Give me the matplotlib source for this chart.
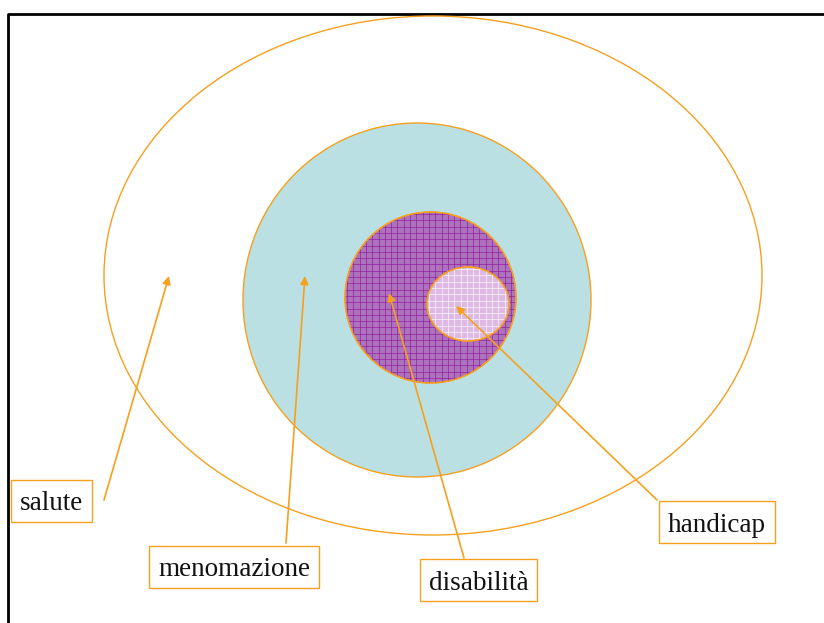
import matplotlib
matplotlib.use("Agg")
import matplotlib.pyplot as plt
from matplotlib.patches import Ellipse, Rectangle
import numpy as np

# ---- data ----
labels = ["salute", "menomazione", "disabilità", "handicap"]
# label box (x0, y0, x1, y1) in pixel coords
boxes = [(11, 480, 92, 522), (149, 546, 319, 588), (420, 559, 537, 601), (659, 501, 775, 543)]
# arrow tails and heads
tails = [(104, 500), (286, 543), (464, 558), (657, 500)]
heads = [(169, 276), (305, 276), (389, 293), (456, 306)]
# ellipses: center x, center y, width, height
ell_names = ["salute", "menomazione", "disabilità", "handicap"]
ell_cx = [433, 417, 430.5, 468]
ell_cy = [275.5, 300, 297.5, 304]
ell_w = [658, 348, 171, 82]
ell_h = [519, 354, 171, 74]

ORANGE = "#F5A01E"
fills = ["none", "#BBE0E3", "#AD72BC", "#DDB9E4"]
grid_cols = [None, None, "#9216A0", "#FFFFFF"]

fig = plt.figure(figsize=(8.24, 6.23), dpi=100)
ax = fig.add_axes([0, 0, 1, 1])
ax.set_xlim(0, 824)
ax.set_ylim(623, 0)
ax.axis("off")

# frame
ax.plot([8, 8, 824], [623, 14, 14], color="black", lw=2, solid_capstyle="butt")

for i in range(4):
    e = Ellipse((ell_cx[i], ell_cy[i]), ell_w[i], ell_h[i],
                facecolor=fills[i], edgecolor=ORANGE, lw=1.0, zorder=2 + i)
    ax.add_patch(e)
    if grid_cols[i] is not None:
        clip = Ellipse((ell_cx[i], ell_cy[i]), ell_w[i], ell_h[i],
                       facecolor="none", edgecolor="none")
        ax.add_patch(clip)
        step = 6.3
        x0 = ell_cx[i] - ell_w[i] / 2
        x1 = ell_cx[i] + ell_w[i] / 2
        y0 = ell_cy[i] - ell_h[i] / 2
        y1 = ell_cy[i] + ell_h[i] / 2
        for gx in np.arange(x0 + 2, x1, step):
            ln, = ax.plot([gx, gx], [y0, y1], color=grid_cols[i], lw=0.6,
                          alpha=0.75, zorder=2 + i + 0.1)
            ln.set_clip_path(clip)
        for gy in np.arange(y0 + 2, y1, step):
            ln, = ax.plot([x0, x1], [gy, gy], color=grid_cols[i], lw=0.6,
                          alpha=0.75, zorder=2 + i + 0.1)
            ln.set_clip_path(clip)
        e2 = Ellipse((ell_cx[i], ell_cy[i]), ell_w[i], ell_h[i],
                     facecolor="none", edgecolor=ORANGE, lw=1.0, zorder=2 + i + 0.2)
        ax.add_patch(e2)

for (t, h) in zip(tails, heads):
    ax.annotate("", xy=h, xytext=t,
                arrowprops=dict(arrowstyle="-|>", color=ORANGE, lw=1.2,
                                mutation_scale=12, shrinkA=0, shrinkB=0),
                zorder=10)

for lab, (bx0, by0, bx1, by1) in zip(labels, boxes):
    ax.add_patch(Rectangle((bx0, by0), bx1 - bx0, by1 - by0, facecolor="white",
                           edgecolor=ORANGE, lw=1.0, zorder=11))
    ax.text((bx0 + bx1) / 2, (by0 + by1) / 2 + 3, lab, ha="center", va="center",
            family="Liberation Serif", fontsize=19.5, color="#111111", zorder=12)

fig.savefig("out.png", dpi=100)
